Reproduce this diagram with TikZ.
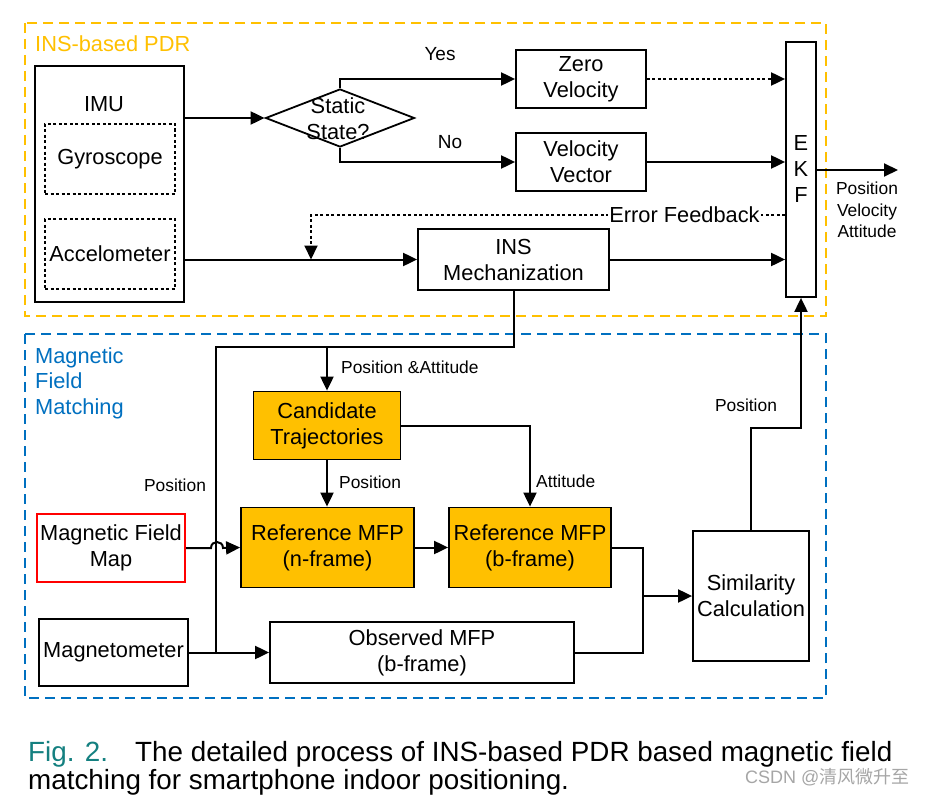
\documentclass[tikz,border=0pt]{standalone}
\usepackage{fontspec}
\setmainfont{Liberation Sans}
\newfontfamily\cjkfont{Noto Sans CJK SC}
\usetikzlibrary{arrows.meta,shapes.geometric,calc}
\newcommand\fsz[2]{\fontsize{#1}{#2}\selectfont}
\definecolor{gold}{RGB}{255,192,0}
\definecolor{mblue}{RGB}{0,112,192}
\definecolor{teal2}{RGB}{20,128,128}
\begin{document}
\begin{tikzpicture}[x=1pt,y=-1pt,
  box/.style={draw, line width=1.8pt, inner sep=0pt, align=center, font=\fsz{21.8}{26}},
  obox/.style={box, fill=gold},
  dbox/.style={draw, line width=1.8pt, dash pattern=on 3pt off 2.5pt, inner sep=0pt, align=center, font=\fsz{21.8}{26}},
  txt/.style={inner sep=0pt, align=center, font=\fsz{21.8}{26}},
  lbl/.style={inner sep=0pt, align=center, font=\fsz{17.4}{21.5}},
  conn/.style={line width=2pt},
  arr/.style={conn, -{Triangle[length=14pt,width=13pt]}},
  dotarr/.style={arr, dash pattern=on 3pt off 2.5pt},
  grp/.style={line width=1.6pt, dash pattern=on 10pt off 6pt},
]
\useasboundingbox (0,0) rectangle (931,797);
\fill[white] (0,0) rectangle (931,797);

% group boxes
\draw[grp, draw=gold] (25,23) rectangle (826,316);
\node[anchor=west, text=gold, font=\fsz{21.8}{26}, inner sep=0pt] (g1) at (35,44) {INS-based PDR};
\draw[grp, draw=mblue] (25,334) rectangle (826,698);
\node[anchor=north west, text=mblue, font=\fsz{21.8}{25.5}, inner sep=0pt, align=left] (g2) at (35,347) {Magnetic\\Field\\Matching};

% INS part
\node[box, minimum width=149pt, minimum height=236pt] (imu) at (109.5,184) {};
\node[txt] (imut) at (104,104) {IMU};
\node[dbox, minimum width=130pt, minimum height=70pt] (gyro) at (110,159) {Gyroscope};
\node[dbox, minimum width=130pt, minimum height=70pt] (acc) at (110,254) {Accelometer};
\node[draw, diamond, line width=1.8pt, inner sep=0pt, minimum width=149pt, minimum height=58pt] (st) at (340,118) {};
\node[txt] (stt) at (338,119) {Static\\State?};
\node[box, minimum width=130pt, minimum height=58pt] (zero) at (581,79) {Zero\\Velocity};
\node[box, minimum width=130pt, minimum height=58pt] (vv) at (581,162) {Velocity\\Vector};
\node[box, minimum width=30pt, minimum height=255pt] (ekf) at (801,169.5) {E\\K\\F};
\node[box, minimum width=191pt, minimum height=61pt] (ins) at (513.5,259.5) {INS\\Mechanization};

\draw[arr] (imu.east |- st.west) -- (st.west);
\draw[arr] (st.north) |- (zero.west);
\draw[arr] (st.south) |- (vv.west);
\node[font=\fsz{19}{23}, inner sep=0pt] (yes) at (440,54) {Yes};
\node[font=\fsz{19}{23}, inner sep=0pt] (no) at (450,142) {No};
\draw[dotarr] (zero.east) -- (zero.east -| ekf.west);
\draw[arr] (vv.east) -- (vv.east -| ekf.west);
\draw[arr] (imu.east |- ins.west) -- (ins.west);
\draw[arr] (ins.east) -- (ins.east -| ekf.west);
\coordinate (fbend) at (311,259.5);
\draw[dotarr] (ekf.west |- 0,215) -| (fbend);
\node[txt, fill=white, inner xsep=1pt, inner ysep=0pt] (fbl) at (684.5,215) {Error Feedback};
\coordinate (outend) at (898,170);
\draw[arr] (ekf.east |- outend) -- (outend);
\node[lbl] (outl) at (867,210) {Position\\Velocity\\Attitude};

% Magnetic part
\node[obox, minimum width=147pt, minimum height=68pt] (cand) at (327,425.5) {Candidate\\Trajectories};
\node[obox, minimum width=173pt, minimum height=80pt] (refn) at (327.5,547.5) {Reference MFP\\(n-frame)};
\node[obox, minimum width=162pt, minimum height=80pt] (refb) at (530,547.5) {Reference MFP\\(b-frame)};
\node[box, draw=red, line width=2pt, minimum width=148pt, minimum height=68pt] (map) at (111,548) {Magnetic Field\\Map};
\node[box, minimum width=149pt, minimum height=67pt] (mag) at (113.5,652.5) {Magnetometer};
\node[box, minimum width=304pt, minimum height=61pt] (obs) at (422,652.5) {Observed MFP\\(b-frame)};
\node[box, minimum width=116pt, minimum height=130pt] (sim) at (751,596) {Similarity\\Calculation};

\coordinate (jtop) at (216,347);
\draw[conn] (ins.south) |- (jtop) -- (jtop |- mag.east);
\draw[arr] (cand.north |- jtop) -- (cand.north);
\node[lbl, anchor=west] (pal) at (341,367) {Position \&Attitude};
\node[lbl] (pl1) at (175,485) {Position};
\draw[arr] (map.east) -- ++(25,0) .. controls +(0,-8) and +(0,-8) .. ++(12,0) -- (refn.west);
\draw[arr] (mag.east) -- (obs.west);
\draw[arr] (cand.south) -- (cand.south |- refn.north);
\node[lbl, anchor=west] (pl2) at (339,482) {Position};
\draw[arr] (cand.east) -| (refb.north);
\node[lbl, anchor=west] (al) at (536,481) {Attitude};
\draw[arr] (refn.east) -- (refb.west);
\coordinate (mg) at (643,596);
\draw[conn] (refb.east) -| (mg);
\draw[conn] (obs.east) -| (mg);
\draw[arr] (mg) -- (sim.west);
\draw[arr] (sim.north) -- ++(0,-102) -| (ekf.south);
\node[lbl] (pl3) at (746,405) {Position};

% caption
\node[anchor=base west, inner sep=0pt, font=\fsz{27.8}{32}, text=teal2] (fig) at (28,761) {Fig. 2.};
\node[anchor=base west, inner sep=0pt, font=\fsz{27.8}{32}] (cap1) at (135,761) {The detailed process of INS-based PDR based magnetic field};
\node[anchor=base west, inner sep=0pt, font=\fsz{27.8}{32}] (cap2) at (28,789) {matching for smartphone indoor positioning.};
\node[anchor=base west, inner sep=0pt, font=\fsz{18}{20}, text=gray!70] (wm) at (745,783) {CSDN @{\cjkfont 清风微升至}};
\end{tikzpicture}
\end{document}
